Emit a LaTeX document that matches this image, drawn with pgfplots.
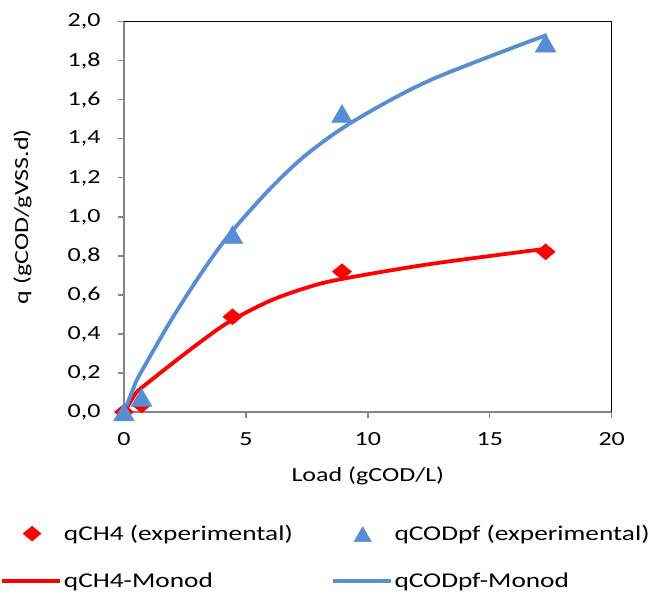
\documentclass[border=0pt]{standalone}
\usepackage{fontspec}
\setmainfont[FakeStretch=1.3]{Carlito}
\usepackage{pgfplots}
\pgfplotsset{compat=1.18}
\definecolor{cred}{RGB}{255,0,0}
\definecolor{cblue}{RGB}{85,142,213}
\definecolor{axgray}{RGB}{134,134,134}
\pgfplotsset{
  legmark/.style={legend image code/.code={\draw[mark repeat=2, mark phase=2, ##1] plot coordinates {(0bp,0bp) (30bp,0bp) (60bp,0bp)};}},
  legtri/.style={legend image code/.code={\draw[mark repeat=2, mark phase=2, ##1] plot coordinates {(0bp,-3bp) (30bp,-3bp) (60bp,-3bp)};}},
  legline/.style={legend image code/.code={\draw[##1] (0bp,0bp) -- (58bp,0bp);}},
}
\begin{document}
\begin{tikzpicture}[font=\fontsize{20bp}{24bp}\selectfont]
\begin{axis}[
  scale only axis, width=487.7bp, height=390.3bp,
  xmin=0, xmax=20, ymin=0, ymax=2,
  xtick={0,5,10,15,20},
  ytick={0,0.2,0.4,0.6,0.8,1.0,1.2,1.4,1.6,1.8,2.0},
  axis x line*=bottom, axis y line*=left,
  axis line style={-, axgray, line width=1.3bp},
  tick style={axgray, line width=1.3bp},
  tick align=outside, major tick length=6bp,
  clip=false,
  /pgf/number format/assume math mode=true,
  tick label style={font=\fontsize{20bp}{24bp}\selectfont},
  x tick label style={yshift=-11bp},
  y tick label style={xshift=-14bp, /pgf/number format/.cd, use comma, fixed, fixed zerofill, precision=1},
  xlabel={Load (gCOD/L)}, ylabel={q (gCOD/gVSS.d)},
  every axis x label/.style={at={(axis description cs:0.5,-0.164)}, anchor=center},
  every axis y label/.style={at={(axis description cs:-0.208,0.5)}, rotate=90, anchor=center},
  legend columns=2,
  legend cell align=left,
  legend style={draw=none, fill=none, at={(axis description cs:0,0)}, anchor=north west,
    xshift=-124bp, yshift=-111bp, row sep=27bp, inner sep=0pt,
    /tikz/every even column/.append style={column sep=36bp},
    font=\fontsize{21bp}{25bp}\selectfont},
]
\coordinate (sw) at (rel axis cs:0,0);
\coordinate (ne) at (rel axis cs:1,1);
\draw[black, line width=1.5bp] (rel axis cs:0,1) -- (rel axis cs:1,1) -- (rel axis cs:1,0);
% Monod fits
\addplot[cred, line width=3.8bp, forget plot] coordinates {(0,0) (0.52,0.104)};
\addplot[cred, line width=3.8bp, smooth, tension=0.5, forget plot] coordinates {
 (0.52,0.104) (1.89,0.24) (3.25,0.37) (4.35,0.465) (5.99,0.57) (7.49,0.637) (8.86,0.68) (12.55,0.758) (17.34,0.837)};
\addplot[cblue, line width=3.8bp, forget plot] coordinates {(0,0) (0.52,0.164)};
\addplot[cblue, line width=3.8bp, smooth, tension=0.5, forget plot] coordinates {
 (0.52,0.164) (1.89,0.462) (3.25,0.726) (4.35,0.914) (5.99,1.144) (7.49,1.32) (9.41,1.49) (12.55,1.70) (17.34,1.932)};
% experimental
\addplot[only marks, mark=diamond*, mark size=8bp, color=cred, mark options={xscale=1.6}, forget plot] coordinates {
 (0,0) (0.72,0.036) (4.45,0.488) (8.94,0.719) (17.29,0.821)};
\addplot[only marks, mark=triangle*, mark size=12bp, color=cblue, forget plot] coordinates {
 (0,-0.015) (0.72,0.06) (4.45,0.893) (8.94,1.514) (17.29,1.875)};
\addlegendimage{only marks, mark=diamond*, mark size=7.5bp, color=cred, mark options={xscale=1.6}, legmark}
\addlegendentry{qCH4 (experimental)}
\addlegendimage{only marks, mark=triangle*, mark size=10bp, color=cblue, legtri}
\addlegendentry{qCODpf (experimental)}
\addlegendimage{cred, line width=3.8bp, legline}
\addlegendentry{qCH4-Monod}
\addlegendimage{cblue, line width=3.8bp, legline}
\addlegendentry{qCODpf-Monod}
\end{axis}
\pgfresetboundingbox
\useasboundingbox ([shift={(-124bp,-187bp)}]sw) rectangle ([shift={(39.3bp,21.7bp)}]ne);
\end{tikzpicture}
\end{document}
